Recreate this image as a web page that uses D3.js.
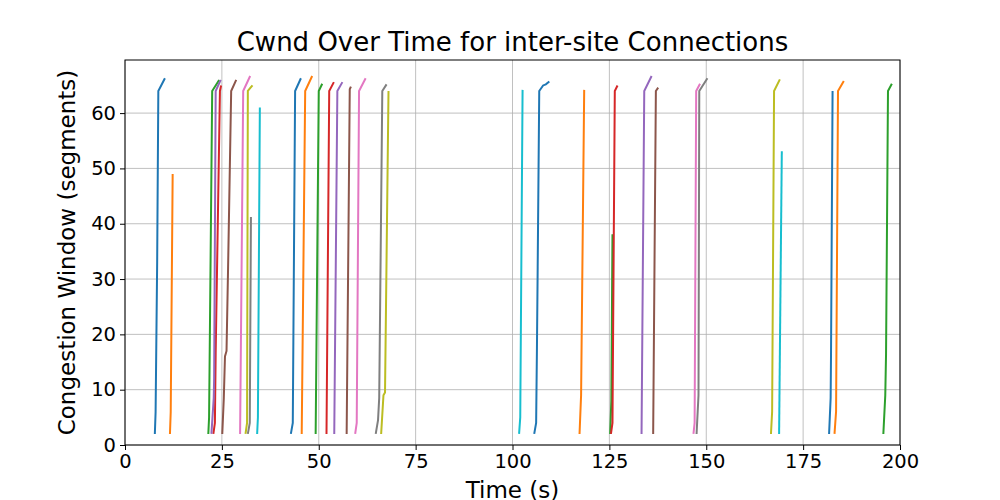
<!DOCTYPE html>
<html>
<head>
<meta charset="utf-8">
<script src="https://cdn.jsdelivr.net/npm/d3@7"></script>
<style>
  body { margin: 0; background: #fff; }
  text { font-family: "DejaVu Sans", sans-serif; }
</style>
</head>
<body>
<svg id="chart" width="1000" height="500"></svg>
<script>
// one array of times and one of cwnd values per connection
const connTimes = [
  [7.7, 7.9, 8.3, 8.6, 10.3],
  [11.6, 11.8, 12.3],
  [21.5, 21.7, 22.5, 24.3],
  [22.8, 23.2, 23.4, 24.5, 24.8],
  [22.3, 22.9, 23.0, 23.4, 24.7],
  [25.1, 25.5, 25.8, 26.2, 26.6, 27.4, 28.7],
  [29.7, 30.5, 32.3],
  [31.7, 32.2, 32.5],
  [31.1, 31.5, 31.7, 32.9],
  [34.1, 34.3, 34.8],
  [42.8, 43.3, 43.9, 45.4],
  [45.6, 46.5, 48.3],
  [49.2, 50.0, 50.9],
  [52.0, 52.7, 53.9],
  [54.0, 54.8, 56.1],
  [57.2, 58.0, 58.3],
  [59.4, 59.8, 60.4, 62.1],
  [64.7, 65.3, 65.6, 66.4, 67.5],
  [66.1, 66.7, 67.1, 68.0],
  [101.7, 102.0, 102.6],
  [105.6, 106.1, 106.3, 106.5, 106.9, 107.9, 108.6, 109.5],
  [117.3, 117.7, 118.5],
  [125.2, 125.5, 125.8],
  [125.4, 125.8, 126.4, 127.1],
  [133.3, 134.0, 135.9],
  [136.3, 137.0, 137.6],
  [146.7, 147.0, 147.4, 148.4],
  [147.5, 148.0, 148.2, 150.3],
  [166.7, 167.0, 167.5, 169.0],
  [168.8, 169.5],
  [181.7, 182.1, 182.2, 182.6],
  [183.1, 183.5, 184.0, 185.5],
  [195.7, 196.2, 196.4, 196.9, 197.9]
];
const connCwnd = [
  [2, 6, 33, 64, 66.3],
  [2, 6, 49],
  [2, 5, 64, 66],
  [2, 4, 16.6, 64, 65],
  [2, 8.5, 12, 64, 66],
  [2, 8.5, 16, 17, 32, 64, 66],
  [2, 64, 66.7],
  [2, 4, 41.2],
  [2, 4, 64, 65],
  [2, 5, 61],
  [2, 4, 64, 66.3],
  [2, 64, 66.7],
  [2, 64, 65.3],
  [2, 64, 65.6],
  [2, 64, 65.6],
  [2, 64.3, 64.8],
  [2, 4, 64, 66.3],
  [2, 4.5, 8.5, 64, 65.2],
  [2, 9, 9.5, 64],
  [2, 5, 64.2],
  [2, 4, 17, 32.2, 64, 65, 65.2, 65.7],
  [2, 9, 64.2],
  [2, 8, 38.1],
  [2, 4, 64, 65],
  [2, 64, 66.7],
  [2, 64, 64.6],
  [2, 4, 64, 65.3],
  [2, 9, 64, 66.3],
  [2, 6, 64, 66.1],
  [2, 53.1],
  [2, 8.5, 16.6, 64],
  [2, 6, 64, 65.8],
  [2, 9, 16.5, 64, 65.3]
];
const xTicks = [0, 25, 50, 75, 100, 125, 150, 175, 200];
const yTicks = [0, 10, 20, 30, 40, 50, 60];

const svg = d3.select("#chart");
const margin = ({top: 60, right: 100, bottom: 55, left: 125});
const width = 1000, height = 500;

const x = d3.scaleLinear().domain([0, 200]).range([margin.left, width - margin.right]);
const y = d3.scaleLinear().domain([0, 69.6]).range([height - margin.bottom, margin.top]);
const color = d3.scaleOrdinal(d3.schemeCategory10);

// grid
svg.append("g").selectAll("line").data(xTicks).join("line")
  .attr("x1", d => x(d)).attr("x2", d => x(d))
  .attr("y1", margin.top).attr("y2", height - margin.bottom)
  .attr("stroke", "#b0b0b0").attr("stroke-width", 0.8);
svg.append("g").selectAll("line").data(yTicks).join("line")
  .attr("y1", d => y(d)).attr("y2", d => y(d))
  .attr("x1", margin.left).attr("x2", width - margin.right)
  .attr("stroke", "#b0b0b0").attr("stroke-width", 0.8);

const line = d3.line().x(d => x(d[0])).y(d => y(d[1]));
svg.append("g").selectAll("path")
  .data(connTimes.map((t, i) => t.map((v, j) => [v, connCwnd[i][j]])))
  .join("path")
  .attr("d", line)
  .attr("fill", "none")
  .attr("stroke", (d, i) => color(i % 10))
  .attr("stroke-width", 2);

// axes
const xAxis = svg.append("g")
  .attr("transform", `translate(0,${height - margin.bottom})`)
  .call(d3.axisBottom(x).tickValues(xTicks).tickSize(5).tickPadding(4));
const yAxis = svg.append("g")
  .attr("transform", `translate(${margin.left},0)`)
  .call(d3.axisLeft(y).tickValues(yTicks).tickSize(5).tickPadding(4));
[xAxis, yAxis].forEach(a => {
  a.selectAll("text").attr("font-size", 19.5).attr("fill", "#000")
    .attr("font-family", "DejaVu Sans, sans-serif");
  a.selectAll("line").attr("stroke", "#000");
  a.select(".domain").remove();
});

svg.append("rect")
  .attr("x", margin.left).attr("y", margin.top)
  .attr("width", width - margin.left - margin.right)
  .attr("height", height - margin.top - margin.bottom)
  .attr("fill", "none").attr("stroke", "#000").attr("stroke-width", 1);

svg.append("text")
  .attr("x", x(100)).attr("y", 51)
  .attr("text-anchor", "middle").attr("font-size", 26)
  .text("Cwnd Over Time for inter-site Connections");
svg.append("text")
  .attr("x", x(100)).attr("y", 498)
  .attr("text-anchor", "middle").attr("font-size", 23)
  .text("Time (s)");
svg.append("text")
  .attr("transform", `translate(75,${(margin.top + height - margin.bottom) / 2}) rotate(-90)`)
  .attr("text-anchor", "middle").attr("font-size", 23)
  .text("Congestion Window (segments)");
</script>
</body>
</html>
